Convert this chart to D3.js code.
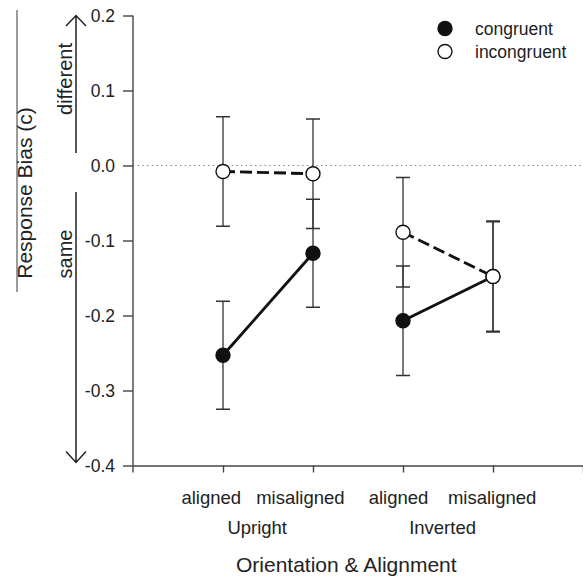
<!DOCTYPE html>
<html><head><meta charset="utf-8">
<script src="https://cdn.jsdelivr.net/npm/d3@7"></script>
<style>
html,body{margin:0;padding:0;background:#fff;}
text{font-family:Arial,"Liberation Sans",sans-serif;fill:#222;}
</style></head>
<body>
<svg id="c" width="583" height="577"></svg>
<script>
// ---- data ----
const conditions = ["aligned", "misaligned", "aligned", "misaligned"];
const orientations = ["Upright", "Inverted"];
const series = ["congruent", "incongruent"];
const congruentMean = [-0.253, -0.117, -0.207, -0.148];
const congruentSE   = [0.072, 0.072, 0.073, 0.073];
const incongruentMean = [-0.008, -0.011, -0.089, -0.148];
const incongruentSE   = [0.073, 0.073, 0.073, 0.074];
const yTicks = [-0.4, -0.3, -0.2, -0.1, 0.0, 0.1, 0.2];
const xTicks = [1, 2, 3, 4, 5];

// ---- layout ----
const svg = d3.select("#c");
const x = d3.scaleLinear().domain([0, 5]).range([133, 583]);
const y = d3.scaleLinear().domain([-0.4, 0.2]).range([465.5, 15.5]);
const axisColor = "#444";

// zero reference line
svg.append("line").attr("x1", x(0)).attr("x2", x(5)).attr("y1", y(0)).attr("y2", y(0))
  .attr("stroke", "#777").attr("stroke-width", 1).attr("stroke-dasharray", "1.3,3.4");

// y axis
const ya = svg.append("g").attr("transform", `translate(${x(0)},0)`)
  .call(d3.axisLeft(y).tickValues(yTicks).tickFormat(d => d3.format(".1f")(d).replace("\u2212", "-"))
    .tickSize(10).tickPadding(8).tickSizeOuter(0));
ya.select(".domain").attr("stroke", axisColor).attr("stroke-width", 1.4)
  .attr("d", `M0,${y(0.2)}V${y(-0.4) + 7}`);
ya.selectAll(".tick line").attr("stroke", axisColor).attr("stroke-width", 1.4);
ya.selectAll(".tick text").attr("font-size", "17.5px").attr("fill", "#222");

// x axis
const xa = svg.append("g").attr("transform", `translate(0,${y(-0.4)})`)
  .call(d3.axisBottom(x).tickValues(xTicks).tickFormat("").tickSize(7).tickSizeOuter(0));
xa.select(".domain").attr("stroke", axisColor).attr("stroke-width", 1.4);
xa.selectAll(".tick line").attr("stroke", axisColor).attr("stroke-width", 1.4);

// category labels
const labelOffset = [-0.13, -0.14, -0.05, -0.01];
svg.selectAll("text.cond").data(conditions).join("text").attr("class", "cond")
  .attr("x", (d, i) => x(i + 1 + labelOffset[i])).attr("y", 503.5)
  .attr("text-anchor", "middle").attr("font-size", "18.5px").text(d => d);
const orientCenter = [1.38, 3.44];
svg.selectAll("text.orient").data(orientations).join("text").attr("class", "orient")
  .attr("x", (d, i) => x(orientCenter[i])).attr("y", 533.5)
  .attr("text-anchor", "middle").attr("font-size", "18.5px").text(d => d);
svg.append("text").attr("x", x(2.37)).attr("y", 571.5).attr("text-anchor", "middle")
  .attr("font-size", "21px").text("Orientation & Alignment");

// y title and direction arrows
svg.append("line").attr("x1", 17).attr("x2", 17).attr("y1", 10).attr("y2", 292)
  .attr("stroke", "#666").attr("stroke-width", 1.3);
svg.append("text").attr("transform", "translate(32,193) rotate(-90)").attr("text-anchor", "middle")
  .attr("font-size", "21px").text("Response Bias (c)");
svg.append("text").attr("transform", "translate(72,79) rotate(-90)").attr("text-anchor", "middle")
  .attr("font-size", "20px").text("different");
svg.append("text").attr("transform", "translate(72,254) rotate(-90)").attr("text-anchor", "middle")
  .attr("font-size", "20px").text("same");
const ax = 76;
svg.append("path").attr("d", `M${ax},${y(0.2)}V153 M${ax - 10},${y(0.2) + 10.5}L${ax},${y(0.2)}L${ax + 10},${y(0.2) + 10.5}`)
  .attr("fill", "none").attr("stroke", "#222").attr("stroke-width", 1.5);
svg.append("path").attr("d", `M${ax},192V${y(-0.4) - 3} M${ax - 10},${y(-0.4) - 14}L${ax},${y(-0.4) - 3}L${ax + 10},${y(-0.4) - 14}`)
  .attr("fill", "none").attr("stroke", "#222").attr("stroke-width", 1.5);

// data
const groups = [
  { name: series[0], mean: congruentMean, se: congruentSE, fill: "#111", dash: null },
  { name: series[1], mean: incongruentMean, se: incongruentSE, fill: "#fff", dash: "12,5" }
];
const cap = 7;
groups.forEach(g => {
  const eb = svg.append("g");
  g.mean.forEach((m, i) => {
    const cx = x(i + 1), t = y(m + g.se[i]), b = y(m - g.se[i]);
    eb.append("path").attr("d", `M${cx},${t}V${b} M${cx - cap},${t}H${cx + cap} M${cx - cap},${b}H${cx + cap}`)
      .attr("stroke", "#333").attr("stroke-width", 1.3).attr("fill", "none");
  });
});
const line = d3.line().x((d, i) => x(d.i + 1)).y(d => y(d.m));
groups.forEach(g => {
  [[0, 1], [2, 3]].forEach(pair => {
    svg.append("path").datum(pair.map(i => ({ i, m: g.mean[i] })))
      .attr("d", line).attr("fill", "none").attr("stroke", "#111").attr("stroke-width", 2.9)
      .attr("stroke-dasharray", g.dash);
  });
});
groups.forEach(g => {
  svg.selectAll(null).data(g.mean).join("circle")
    .attr("cx", (d, i) => x(i + 1)).attr("cy", d => y(d)).attr("r", 7)
    .attr("fill", g.fill).attr("stroke", "#111").attr("stroke-width", 1.4);
});

// legend
const lg = svg.append("g");
series.forEach((s, i) => {
  const ly = 28.5 + i * 23;
  lg.append("circle").attr("cx", 445).attr("cy", ly).attr("r", 7)
    .attr("fill", i === 0 ? "#111" : "#fff").attr("stroke", "#111").attr("stroke-width", 1.4);
  lg.append("text").attr("x", 475).attr("y", ly + 6).attr("font-size", "17.5px").text(s);
});
</script>
</body></html>
